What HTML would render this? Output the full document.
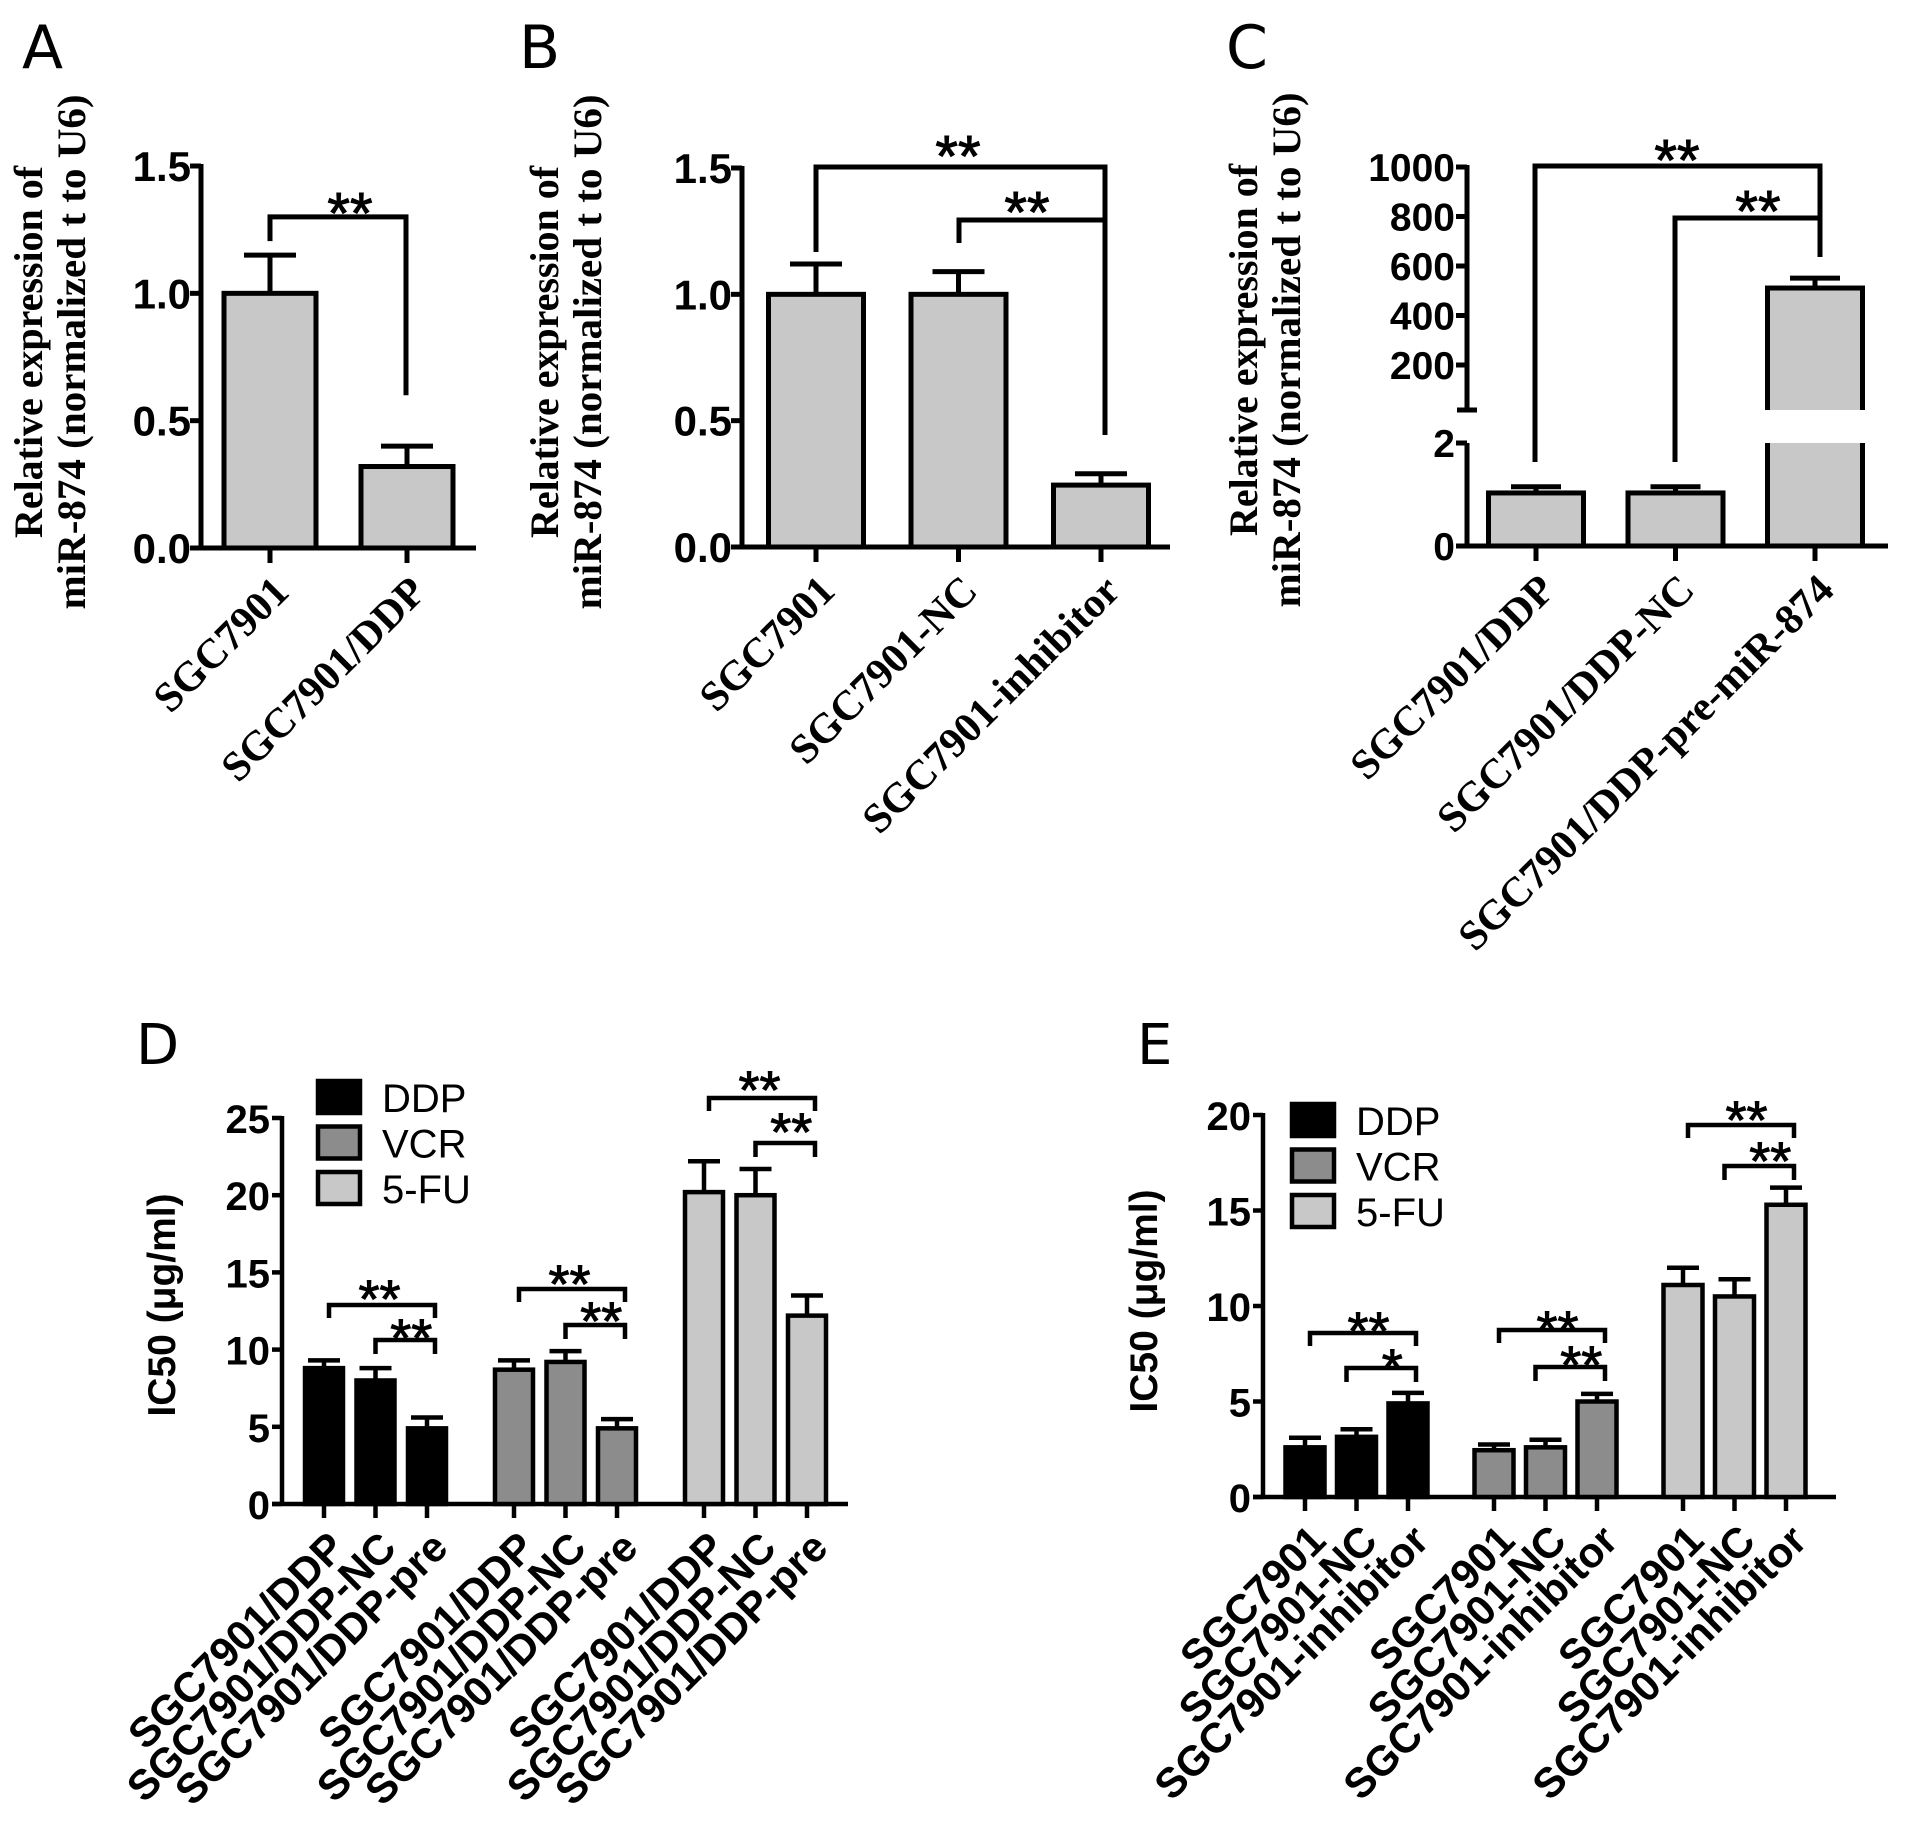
<!DOCTYPE html>
<html><head><meta charset="utf-8"><style>
html,body{margin:0;padding:0;background:#fff;}
svg{display:block;}
</style></head><body>
<svg id="fig" xmlns="http://www.w3.org/2000/svg" width="1913" height="1833" viewBox="0 0 1913 1833"></svg>
<script>
// ---------- data ----------
const aCats = ["SGC7901","SGC7901/DDP"];
const aVals = [1.0, 0.32];
const aErr = [0.15, 0.08];
const aTicks = ["0.0","0.5","1.0","1.5"];

const bCats = ["SGC7901","SGC7901-NC","SGC7901-inhibitor"];
const bVals = [1.0, 1.0, 0.245];
const bErr = [0.12, 0.09, 0.045];
const bTicks = ["0.0","0.5","1.0","1.5"];

const cCats = ["SGC7901/DDP","SGC7901/DDP-NC","SGC7901/DDP-pre-miR-874"];
const cVals = [1.03, 1.03, 511];
const cErr = [0.12, 0.12, 40];
const cTicksLow = [0, 2];
const cTicksHigh = [200, 400, 600, 800, 1000];

const seriesNames = ["DDP","VCR","5-FU"];
const dCats = ["SGC7901/DDP","SGC7901/DDP-NC","SGC7901/DDP-pre"];
const dVals = [[8.8, 8.0, 4.9],[8.7, 9.2, 4.9],[20.2, 20.0, 12.2]];
const dErr = [[0.5, 0.8, 0.7],[0.6, 0.7, 0.6],[2.0, 1.7, 1.3]];
const dTicks = [0,5,10,15,20,25];

const eCats = ["SGC7901","SGC7901-NC","SGC7901-inhibitor"];
const eVals = [[2.6, 3.15, 4.9],[2.45, 2.6, 5.0],[11.1, 10.5, 15.3]];
const eErr = [[0.5, 0.4, 0.55],[0.3, 0.4, 0.4],[0.9, 0.9, 0.9]];
const eTicks = [0,5,10,15,20];

// ---------- helpers ----------
const NS = "http://www.w3.org/2000/svg";
const svg = document.getElementById('fig');
function el(tag, attrs, parent){
  const e = document.createElementNS(NS, tag);
  for (const k in attrs) e.setAttribute(k, attrs[k]);
  (parent||svg).appendChild(e);
  return e;
}
function txt(str, attrs, parent){ const t = el('text', attrs, parent); t.textContent = str; return t; }
const SERIF = '"Liberation Serif", serif';
const SANS = '"Liberation Sans", sans-serif';
const LW = 5;

function line(x1,y1,x2,y2,w,p){ return el('line',{x1,y1,x2,y2,stroke:'#000','stroke-width':w||LW,'stroke-linecap':'butt'},p); }

function bracket(g, xl, xr, y, dl, dr, w){
  const p = el('path',{d:`M${xl},${dl} L${xl},${y} L${xr},${y} L${xr},${dr}`,fill:'none',stroke:'#000','stroke-width':w||LW},g);
  
  
}
function stars(g, s, cx, cy, fs){
  const t = txt(s,{x:cx,y:cy+fs*0.58,'font-family':SANS,'font-size':fs,'text-anchor':'middle',stroke:'#000','stroke-width':1},g);
  
  
}
function errBar(g, cx, yTop, yErr, cap, w){
  line(cx, yTop, cx, yErr, w, g);
  line(cx-cap/2, yErr, cx+cap/2, yErr, w, g);
}
function panelLabel(s, x, y, fs){
  const t = txt(s,{x,y,'font-family':'"DejaVu Sans", sans-serif','font-size':fs});
  
  
}
function xLabel(g, s, tx, ty, fs, fam){
  const t = txt(s,{x:tx,y:ty,'font-family':fam,'font-size':fs,'font-weight':'bold','text-anchor':'end',transform:`rotate(-45 ${tx} ${ty})`},g);
  
  
}
function yTitle2(g, l1, l2, x1, x2, cy, len1, len2){
  const t1 = txt(l1,{x:x1,y:cy,'font-family':SERIF,'font-size':40,'font-weight':'bold','text-anchor':'middle',transform:`rotate(-90 ${x1} ${cy})`,textLength:len1,lengthAdjust:'spacingAndGlyphs'},g);
  
  
  const t2 = txt(l2,{x:x2,y:cy,'font-family':SERIF,'font-size':40,'font-weight':'bold','text-anchor':'middle',transform:`rotate(-90 ${x2} ${cy})`,textLength:len2,lengthAdjust:'spacingAndGlyphs'},g);
  
  
}

// ---------- simple panel (A, B) ----------
function simplePanel(name, cats, vals, errs, ticks, ax){
  const g = el('g',{});
  
  
  const y = v => ax.y0 - (v/1.5)*(ax.y0-ax.yTop);
  const ya = line(ax.x, ax.yTop-2, ax.x, ax.y0, LW, g);
   
  const xa = line(ax.x-10, ax.y0, ax.xEnd, ax.y0, LW, g);
   
  ticks.forEach(tl=>{
    const v = parseFloat(tl); const yy = y(v);
    line(ax.x-11, yy, ax.x, yy, LW, g);
    const t = txt(tl,{x:ax.x-10,y:yy+15,'font-family':SANS,'font-size':42,'font-weight':'bold','text-anchor':'end'},g);
     
  });
  cats.forEach((c,i)=>{
    const cx = ax.c0 + i*ax.step;
    const yt = y(vals[i]);
    const r = el('rect',{x:cx-ax.bw/2,y:yt,width:ax.bw,height:ax.y0-yt,fill:'#c8c8c8',stroke:'#000','stroke-width':LW},g);
    
    
    errBar(g, cx, yt, y(vals[i]+errs[i]), 52, LW);
    line(cx, ax.y0, cx, ax.y0+15, LW, g);
    xLabel(g, c, cx+21, ax.y0+46, 42, SERIF);
  });
  return {g, y};
}

// Panel A
panelLabel('A', 22, 68, 60);
const A = simplePanel('a', aCats, aVals, aErr, aTicks, {x:201,yTop:166,y0:548,xEnd:476,c0:270,step:137,bw:92});
yTitle2(A.g, 'Relative expression of', 'miR-874  (normalized t to U6)', 42, 85, 352, 372, 515);
bracket(A.g, 270, 406, A.y(1.3), A.y(1.15)-14, A.y(0.6), LW);
stars(A.g, '**', 350, 200, 58);

// Panel B
panelLabel('B', 519, 68, 60);
const B = simplePanel('b', bCats, bVals, bErr, bTicks, {x:742,yTop:168,y0:547,xEnd:1170,c0:816,step:142.5,bw:95});
yTitle2(B.g, 'Relative expression of', 'miR-874  (normalized t to U6)', 558, 601, 352, 372, 515);
bracket(B.g, 816, 1105, A.y(1.5)+1, 252, 435, LW);
bracket(B.g, 959, 1105, 220, 243, 220, LW);
stars(B.g, '**', 958, 143, 58);
stars(B.g, '**', 1027, 199, 58);

// Panel C (broken axis)
panelLabel('C', 1226, 68, 60);
(function(){
  const g = el('g',{});
  
  
  const ax = {x:1467, y0:546, y2:443, yBreak:410, y1000:167, xEnd:1888, c0:1536, step:139.5, bw:95};
  const lowY = v => ax.y0 - v*((ax.y0-ax.y2)/2);
  const highY = v => ax.y1000 + (1000-v)*((365-167)/800);
  const y = v => v <= 2 ? lowY(v) : highY(v);
  const ya1 = line(ax.x, ax.y1000-2, ax.x, ax.yBreak, LW, g);
   
  line(ax.x-10, ax.yBreak, ax.x+10, ax.yBreak, LW, g);
  const ya2 = line(ax.x, ax.y2, ax.x, ax.y0, LW, g);
   
  const xa = line(ax.x-10, ax.y0, ax.xEnd, ax.y0, LW, g);
   
  cTicksLow.concat(cTicksHigh).forEach(v=>{
    const yy = y(v);
    line(ax.x-11, yy, ax.x, yy, LW, g);
    const t = txt(String(v),{x:ax.x-12,y:yy+14,'font-family':SANS,'font-size':39,'font-weight':'bold','text-anchor':'end'},g);
     
  });
  cCats.forEach((c,i)=>{
    const cx = ax.c0 + i*ax.step;
    const yt = y(cVals[i]);
    const r = el('rect',{x:cx-ax.bw/2,y:yt,width:ax.bw,height:ax.y0-yt,fill:'#c8c8c8',stroke:'#000','stroke-width':LW},g);
    
    
    if (cVals[i] > 2) {
      const gap = el('rect',{x:cx-ax.bw/2-4,y:ax.yBreak,width:ax.bw+8,height:ax.y2-ax.yBreak,fill:'#fff'},g);
       
    }
    errBar(g, cx, yt, y(cVals[i]+cErr[i]), 50, LW);
    line(cx, ax.y0, cx, ax.y0+15, LW, g);
    xLabel(g, c, cx+21, ax.y0+46, 42, SERIF);
  });
  yTitle2(g, 'Relative expression of', 'miR-874  (normalized t to U6)', 1257, 1300, 350, 372, 515);
  bracket(g, 1535, 1820, 166, 462, 257, LW);
  bracket(g, 1675, 1820, 218, 462, 218, LW);
  stars(g, '**', 1677, 147, 58);
  stars(g, '**', 1758, 198, 58);
})();

// ---------- grouped panels (D, E) ----------
const fills = ['#000000','#8c8c8c','#c8c8c8'];
function groupPanel(name, cats, vals, errs, ticks, ax){
  const g = el('g',{});
  
  
  const maxT = ticks[ticks.length-1];
  const y = v => ax.y0 - (v/maxT)*(ax.y0-ax.yTop);
  const W = 4.5;
  const ya = line(ax.x, ax.yTop-2, ax.x, ax.y0, W, g);
   
  const xa = line(ax.x-10, ax.y0, ax.xEnd, ax.y0, W, g);
   
  ticks.forEach(v=>{
    const yy = y(v);
    line(ax.x-10, yy, ax.x, yy, W, g);
    const t = txt(String(v),{x:ax.x-12,y:yy+15,'font-family':SANS,'font-size':40,'font-weight':'bold','text-anchor':'end'},g);
     
  });
  const centers = [];
  vals.forEach((sv,s)=>{
    centers.push([]);
    sv.forEach((v,i)=>{
      const cx = ax.c0 + s*ax.gstep + i*ax.step;
      centers[s].push(cx);
      const yt = y(v);
      const r = el('rect',{x:cx-ax.bw/2,y:yt,width:ax.bw,height:ax.y0-yt,fill:fills[s],stroke:'#000','stroke-width':W},g);
      
      
      errBar(g, cx, yt, y(v+errs[s][i]), 32, W);
      line(cx, ax.y0, cx, ax.y0+14, W, g);
      xLabel(g, cats[i], cx+23, ax.y0+46, 42, SANS);
    });
  });
  const t = txt('IC50 (μg/ml)',{x:ax.titleX,y:ax.titleY,'font-family':SANS,'font-size':39,'font-weight':'bold','text-anchor':'middle',transform:`rotate(-90 ${ax.titleX} ${ax.titleY})`},g);
   
  seriesNames.forEach((n,s)=>{
    const ly = ax.legY + s*45.5;
    const r = el('rect',{x:ax.legX,y:ly,width:42,height:32,fill:fills[s],stroke:'#000','stroke-width':W},g);
    
    
    const lt = txt(n,{x:ax.legX+64,y:ly+31,'font-family':SANS,'font-size':40},g);
    
    
  });
  return {g, y, centers};
}

// Panel D
panelLabel('D', 136, 1064, 56);
const D = groupPanel('d', dCats, dVals, dErr, dTicks, {x:282,yTop:1118,y0:1504,xEnd:848,c0:324,step:51.5,gstep:190,bw:38,titleX:175,titleY:1305,legX:318,legY:1081});
[[1305,1340,1286,1325],[1289,1325,1271,1308],[1098,1143,1077,1119]].forEach((b,s)=>{
  const c = D.centers[s];
  bracket(D.g, c[0]+5, c[2]+8, b[0], b[0]+13, b[0]+13, 4.5);
  bracket(D.g, c[1], c[2]+8, b[1], b[1]+14, b[1]+14, 4.5);
  stars(D.g, '**', (c[0]+c[2])/2+4, b[2], 54);
  stars(D.g, '**', (c[1]+c[2])/2+10, b[3], 54);
});

// Panel E
panelLabel('E', 1137, 1064, 56);
const E = groupPanel('e', eCats, eVals, eErr, eTicks, {x:1263,yTop:1115,y0:1497,xEnd:1836,c0:1305,step:51.5,gstep:189,bw:39,titleX:1157,titleY:1301,legX:1292,legY:1104});
[[1333,1368,1318,1355,'*'],[1330,1367,1317,1352,'**'],[1125,1166,1107,1148,'**']].forEach((b,s)=>{
  const c = E.centers[s];
  bracket(E.g, c[0]+5, c[2]+8, b[0], b[0]+13, b[0]+13, 4.5);
  bracket(E.g, c[1]-10, c[2]+8, b[1], b[1]+14, b[1]+14, 4.5);
  stars(E.g, '**', (c[0]+c[2])/2+12, b[2], 54);
  stars(E.g, b[4], (c[1]+c[2])/2+10, b[3], 54);
});
</script>
</body></html>
